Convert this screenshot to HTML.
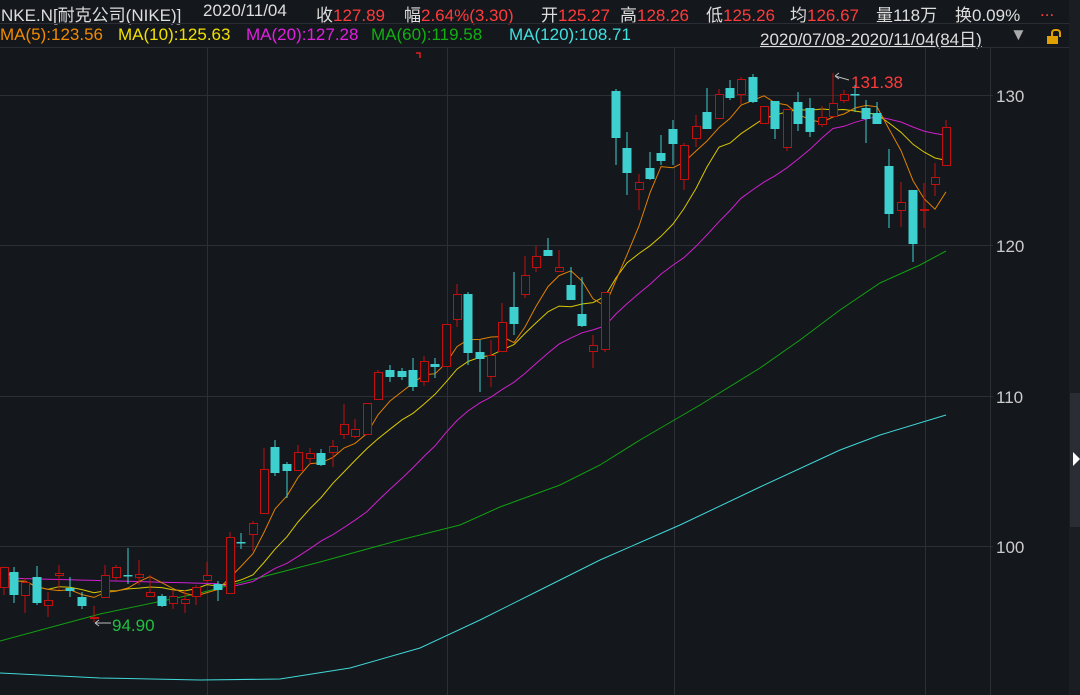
<!DOCTYPE html>
<html><head><meta charset="utf-8"><style>
body{margin:0;background:#14171c;width:1080px;height:695px;overflow:hidden;font-family:"Liberation Sans","Noto Sans CJK SC",sans-serif;}
.h{position:absolute;white-space:nowrap;font-size:17px;color:#ddd;top:1px;}
.m{position:absolute;white-space:nowrap;font-size:17px;top:25px;}
.r{color:#ff3b3b}
</style></head><body>
<div class="h" style="left:1px;">NKE.N[耐克公司(NIKE)]</div>
<div class="h" style="left:203px;">2020/11/04</div>
<div class="h" style="left:316px;">收<span class="r">127.89</span></div>
<div class="h" style="left:404px;">幅<span class="r">2.64%(3.30)</span></div>
<div class="h" style="left:541px;">开<span class="r">125.27</span></div>
<div class="h" style="left:620px;">高<span class="r">128.26</span></div>
<div class="h" style="left:706px;">低<span class="r">125.26</span></div>
<div class="h" style="left:790px;">均<span class="r">126.67</span></div>
<div class="h" style="left:876px;">量118万</div>
<div class="h" style="left:955px;">换0.09%</div>
<div class="h r" style="left:1040px;">...</div>
<div style="position:absolute;left:0;top:23px;width:1069px;height:1px;background:#2a2d33"></div>
<div class="m" style="left:0;color:#f08a00">MA(5):123.56</div>
<div class="m" style="left:118px;color:#f0e000">MA(10):125.63</div>
<div class="m" style="left:246px;color:#e020e0">MA(20):127.28</div>
<div class="m" style="left:371px;color:#10b010">MA(60):119.58</div>
<div class="m" style="left:509px;color:#40e0e0">MA(120):108.71</div>
<div class="m" style="left:760px;color:#ddd;text-decoration:underline;">2020/07/08-2020/11/04(84日)</div>
<div class="m" style="left:1010px;color:#aaa">▼</div>
<div style="position:absolute;left:1047px;top:36px;width:11px;height:8px;background:#e0a000"></div>
<div style="position:absolute;left:1051px;top:29px;width:6px;height:6px;border:2px solid #e0a000;border-bottom:none;border-radius:4px 4px 0 0;"></div>
<div style="position:absolute;left:0;top:47px;width:1069px;height:1px;background:#2a2d33"></div>
<div style="position:absolute;left:1069px;top:0;width:11px;height:695px;background:#1a1d22"></div>
<div style="position:absolute;left:1070px;top:393px;width:10px;height:134px;background:#2a2d33"></div>
<div style="position:absolute;left:1073px;top:452px;width:0;height:0;border-left:7px solid #fff;border-top:7px solid transparent;border-bottom:7px solid transparent"></div>
<svg id="s" width="1069" height="695" style="position:absolute;left:0;top:0"></svg>
<script>
var C=[[4,'r',567,587,567,595],[14,'c',572,595,567,603],[25,'r',582,595,578,613],[37,'c',577,603,566,605],[48,'r',600,605,592,617],[59,'r',573,575,565,590],[70,'c',588,591,577,597],[82,'c',597,606,592,609],[94,'r',617,618,606,622],[105,'r',575,597,565,598],[116,'r',567,577,565,580],[128,'c',575,575,548,584],[139,'r',574,577,560,585],[150,'r',592,596,575,596],[162,'c',596,606,594,607],[173,'r',596,603,590,609],[185,'r',599,603,590,613],[196,'r',587,596,585,605],[207,'r',575,580,562,582],[218,'c',584,590,581,601],[230,'r',537,593,532,593],[241,'c',542,543,533,549],[253,'r',523,534,521,551],[264,'r',469,513,448,513],[275,'c',447,473,440,476],[287,'c',464,471,462,498],[298,'r',452,470,445,470],[310,'r',453,458,448,465],[321,'c',453,465,449,466],[333,'r',446,452,440,467],[344,'r',424,434,404,439],[355,'r',429,436,419,438],[367,'r',403,434,403,434],[378,'r',372,399,370,399],[390,'c',370,377,365,382],[402,'c',371,377,368,380],[413,'c',370,387,358,391],[424,'r',361,381,356,386],[435,'c',364,367,358,378],[446,'r',324,366,324,366],[457,'r',294,319,284,327],[468,'c',294,353,292,365],[480,'c',352,359,340,392],[491,'r',355,376,340,387],[502,'r',322,351,303,351],[514,'c',307,324,272,335],[525,'r',275,294,256,298],[536,'r',256,267,246,272],[548,'c',250,256,238,256],[559,'r',267,271,250,272],[571,'c',285,300,267,300],[582,'c',314,326,277,327],[593,'r',345,351,335,368],[605,'r',292,349,292,352],[616,'c',91,138,89,165],[627,'c',148,173,132,195],[639,'r',182,189,174,210],[650,'c',168,179,152,180],[661,'c',153,161,135,165],[673,'c',129,144,120,165],[684,'r',145,179,143,190],[696,'r',126,138,115,147],[707,'c',112,129,88,129],[719,'r',94,118,89,118],[730,'c',88,98,80,100],[741,'r',79,94,77,104],[753,'c',77,102,74,103],[764,'r',106,123,106,123],[775,'c',101,129,101,139],[787,'r',109,147,109,151],[798,'c',102,124,92,131],[810,'c',108,132,98,137],[822,'r',117,124,106,127],[833,'r',103,116,73,116],[844,'r',94,100,90,103],[855,'c',94,94,85,112],[866,'c',108,119,100,143],[877,'c',113,124,102,124],[889,'c',166,214,149,228],[901,'r',202,210,182,227],[913,'c',190,244,190,262],[924,'r',209,209,183,228],[935,'r',177,184,163,196],[946,'r',127,165,120,165]];
var s='';
[95,245,396,546].forEach(function(y,i){s+='<line x1="0" y1="'+y+'.5" x2="993" y2="'+y+'.5" stroke="#2c2f35"/>';s+='<text x="996" y="'+(y+7)+'" fill="#ccc" font-size="17" font-family="Liberation Sans,sans-serif">'+(130-10*i)+'</text>';});
[207,447,674,925].forEach(function(x){s+='<line x1="'+x+'.5" y1="48" x2="'+x+'.5" y2="695" stroke="#2c2f35"/>';});
s+='<line x1="990.5" y1="48" x2="990.5" y2="695" stroke="#2c2f35"/>';
var cl=C.map(function(c){return c[1]=='r'?c[2]:c[3];});
function ma(n){var p=[];for(var i=0;i<C.length;i++){var a=0,k=0;for(var j=Math.max(0,i-n+1);j<=i;j++){a+=cl[j];k++;}p.push(C[i][0]+','+(a/k).toFixed(1));}return p.join(' ');}
s+='<polyline points="0,673 100,678 200,680 280,679 350,668 420,648 480,620 540,590 600,560 680,525 760,487 840,450 880,435 946,415" fill="none" stroke="#40d8d8" stroke-width="1"/>';
s+='<polyline points="0,641 100,614 200,593 320,562 400,540 460,525 500,507 560,485 600,465 640,440 700,405 760,368 800,340 840,310 880,283 920,265 946,251" fill="none" stroke="#12a012" stroke-width="1"/>';
var m20=ma(20).split(' ');m20=m20.map(function(p,i){var a=p.split(',');if(i<20){a[1]=(578+i*0.3).toFixed(1);}return a.join(',');});
s+='<polyline points="'+m20.join(' ')+'" fill="none" stroke="#d020d0" stroke-width="1"/>';
s+='<polyline points="'+ma(10)+'" fill="none" stroke="#d8c800" stroke-width="1"/>';
s+='<polyline points="'+ma(5)+'" fill="none" stroke="#e08000" stroke-width="1"/>';
C.forEach(function(c){var x=c[0];if(c[1]=='r'){s+='<line x1="'+x+'" y1="'+c[4]+'" x2="'+x+'" y2="'+c[5]+'" stroke="#c01010"/>';var h=Math.max(c[3]-c[2],1);s+='<rect x="'+(x-4)+'.5" y="'+c[2]+'.5" width="8" height="'+h+'" fill="#14171c" stroke="#c01010"/>';}else{s+='<line x1="'+x+'" y1="'+c[4]+'" x2="'+x+'" y2="'+c[5]+'" stroke="#3ecfcf"/>';s+='<rect x="'+(x-4.5)+'" y="'+c[2]+'" width="9" height="'+Math.max(c[3]-c[2],1.5)+'" fill="#3ecfcf"/>';}});
s+='<text x="851" y="88" fill="#ff3b3b" font-size="17" font-family="Liberation Sans,sans-serif">131.38</text><path d="M849,80 L835,76 M835,76 l4,-3 M835,76 l4,3" stroke="#bbb" fill="none"/>';
s+='<text x="112" y="631" fill="#20c040" font-size="17" font-family="Liberation Sans,sans-serif">94.90</text><path d="M111,623 L95,623 M95,623 l4,-3 M95,623 l4,3" stroke="#bbb" fill="none"/>';
s+='<path d="M416,53 h4 v5" stroke="#e02020" fill="none" stroke-width="1.5"/>';
document.getElementById('s').innerHTML=s;
</script>
</body></html>
